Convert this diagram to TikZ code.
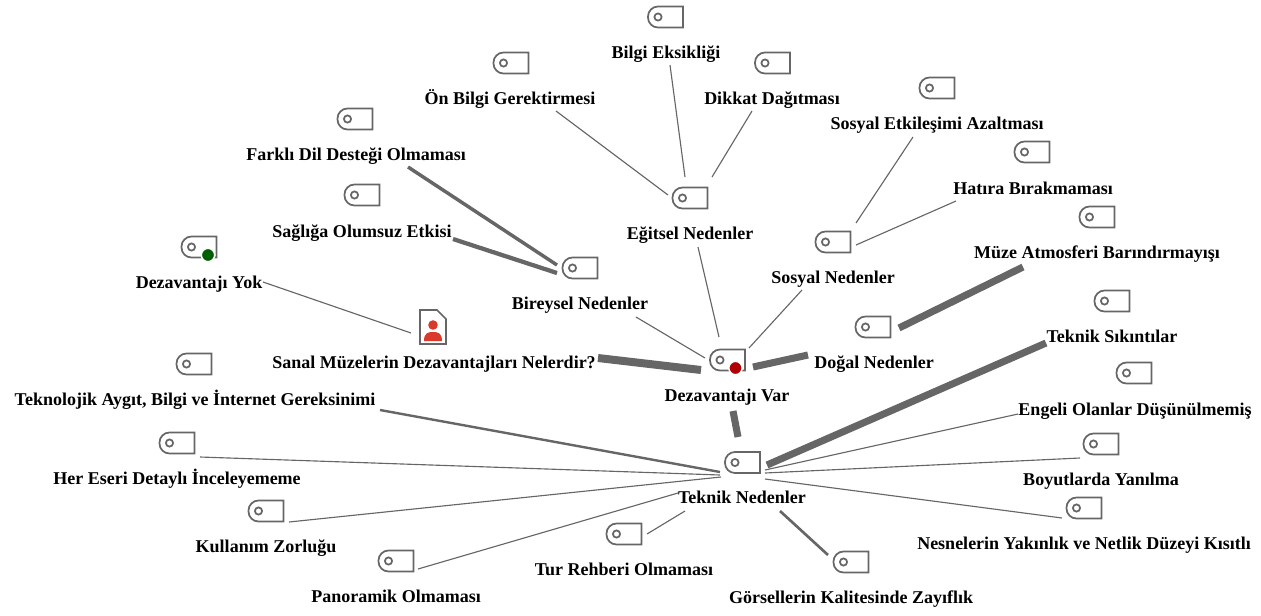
\documentclass[tikz,border=0pt]{standalone}
\usepackage{fontspec}
\setmainfont{Liberation Serif}
\usepackage{tikz}
\usetikzlibrary{calc}
\definecolor{linkgray}{HTML}{666666}
\definecolor{tagred}{HTML}{B00000}
\definecolor{taggreen}{HTML}{005F00}
\definecolor{docred}{HTML}{D93A2B}
\tikzset{
  tagbox/.style={minimum width=26.25pt,minimum height=15.75pt,inner sep=0pt},
  tagline/.style={draw=linkgray,line width=1.3pt},
  lbl/.style={inner sep=0pt,text height=10pt,text depth=2.5pt,font=\fontsize{13.5pt}{15pt}\selectfont\bfseries},
  link/.style={draw=linkgray,line width=#1},
  link/.default=0.85pt,
  tagdot/.style={circle,inner sep=0pt,minimum size=10pt,fill=#1,draw=white,line width=1.1pt}
}

\begin{document}
\begin{tikzpicture}[x=0.75pt,y=-0.75pt]
\useasboundingbox (0,0) rectangle (1261,615);
% tags and their labels
\foreach \n/\ix/\iy/\lx/\ly/\t in {
  Bilgi/665.5/17/666/53/Bilgi Eksikliği,
  Dikkat/772.5/63/772/99/Dikkat Dağıtması,
  OnBilgi/511/63/510/99/Ön Bilgi Gerektirmesi,
  Etkilesim/937/88/937/124/Sosyal Etkileşimi Azaltması,
  Hatira/1032/152/1033/189/Hatıra Bırakmaması,
  Atmosfer/1097/217/1097/253/Müze Atmosferi Barındırmayışı,
  Sikinti/1112/301/1112/337/Teknik Sıkıntılar,
  Engel/1134/373/1135/410/Engeli Olanlar Düşünülmemiş,
  Boyut/1101/444/1101/480/Boyutlarda Yanılma,
  Netlik/1084/508/1084/544/Nesnelerin Yakınlık ve Netlik Düzeyi Kısıtlı,
  Gorsel/851/562/851/598/Görsellerin Kalitesinde Zayıflık,
  Rehber/624/534/624/570/Tur Rehberi Olmaması,
  Panorama/396/561/396/597/Panoramik Olmaması,
  Zorluk/266/511/266/547/Kullanım Zorluğu,
  Detay/177/443/177/479/Her Eseri Detaylı İnceleyememe,
  Aygit/194/364/195/400/{Teknolojik Aygıt, Bilgi ve İnternet Gereksinimi},
  Yok/199/247/199/283/Dezavantajı Yok,
  Saglik/362/195/362/232/Sağlığa Olumsuz Etkisi,
  Dil/355/119/356/155/Farklı Dil Desteği Olmaması,
  Bireysel/580/268/580/304/Bireysel Nedenler,
  Egitsel/690/198/690/234/Eğitsel Nedenler,
  Sosyal/833/242/833/278/Sosyal Nedenler,
  Dogal/873/327/874/363/Doğal Nedenler,
  Var/727.5/360/727/396/Dezavantajı Var,
  Teknik/742.5/462.5/742/498/Teknik Nedenler}{
  \node[tagbox] (i\n) at (\ix,\iy) {};
  \node[lbl] (l\n) at (\lx,\ly) {\t};
  \draw[tagline,shift={(\ix,\iy)}] (17.5,-10.5) -- (17.5,10.5) [rounded corners=7.5pt] -- (-17.5,10.5) -- (-17.5,-10.5) [sharp corners] -- cycle;
  \draw[tagline,shift={(\ix,\iy)}] (-7.5,0) circle (3.6);
}
% status dots
\node[tagdot=tagred] (dVar) at ($(iVar)+(8,8)$) {};
\node[tagdot=taggreen] (dYok) at ($(iYok)+(9,8)$) {};
% question
\node[inner sep=0pt,minimum width=19.5pt,minimum height=25.5pt] (iRoot) at (433,327) {};
\node[lbl] (lRoot) at (434,363) {Sanal Müzelerin Dezavantajları Nelerdir?};
\draw[tagline,shift={(433,327)}] (-13,-17) -- (4,-17) -- (13,-8) -- (13,17) -- (-13,17) -- cycle;
\fill[docred,shift={(433,327)}] (0,-2) circle (4.8);
\fill[docred,shift={(433,327)}] (-9,14) .. controls (-9,6) and (-5,5) .. (0,5) .. controls (5,5) and (9,6) .. (9,14) -- cycle;
% thin links
\draw[link] ($(lOnBilgi)+(46,12)$) -- ($(iEgitsel)+(-22,-3)$);
\draw[link] ($(lBilgi)+(4,12)$) -- ($(iEgitsel)+(-5,-21)$);
\draw[link] ($(lDikkat)+(-20,12)$) -- ($(iEgitsel)+(22,-21)$);
\draw[link] ($(lEtkilesim)+(-24,13)$) -- ($(iSosyal)+(23,-19)$);
\draw[link] ($(lHatira)+(-77,12)$) -- ($(iSosyal)+(23,3)$);
\draw[link] ($(lEngel)+(-117,4)$) -- ($(iTeknik)+(22.5,7.5)$);
\draw[link] ($(iBoyut)+(-21,14)$) -- ($(iTeknik)+(22.5,10.5)$);
\draw[link] ($(iNetlik)+(-22,10)$) -- ($(iTeknik)+(22.5,16.5)$);
\draw[link] ($(iRehber)+(23,0)$) -- ($(lTeknik)+(-57,13)$);
\draw[link] ($(iPanorama)+(22,8)$) -- ($(lTeknik)+(-64,-5)$);
\draw[link] ($(iZorluk)+(23,11)$) -- ($(iTeknik)+(-21.5,14.5)$);
\draw[link] ($(iDetay)+(23,14)$) -- ($(iTeknik)+(-22.5,12.5)$);
\draw[link] ($(lYok)+(64,-1)$) -- ($(iRoot)+(-22,6)$);
\draw[link] ($(lBireysel)+(56,13)$) -- ($(iVar)+(-22.5,-2)$);
\draw[link] ($(lEgitsel)+(8,13)$) -- ($(iVar)+(-8.5,-23)$);
\draw[link] ($(lSosyal)+(-31,12)$) -- ($(iVar)+(21.5,-12)$);
% heavy links
\draw[link=5.3pt] ($(lAtmosfer)+(-74,14)$) -- ($(iDogal)+(26,1)$);
\draw[link=5.3pt] ($(lSikinti)+(-66,6)$) -- ($(iTeknik)+(24.5,2.5)$);
\draw[link=2pt] ($(iGorsel)+(-23,-7)$) -- ($(lTeknik)+(38,13)$);
\draw[link=1.8pt] ($(lAygit)+(185,10)$) -- ($(iTeknik)+(-22.5,9.5)$);
\draw[link=3.2pt] ($(lSaglik)+(91,7)$) -- ($(iBireysel)+(-23,5)$);
\draw[link=2.6pt] ($(lDil)+(52,12)$) -- ($(iBireysel)+(-23,-3)$);
\draw[link=6pt] ($(lRoot)+(164,-5)$) -- ($(iVar)+(-26.5,10)$);
\draw[link=5.3pt] ($(iVar)+(25.5,7)$) -- ($(lDogal)+(-66,-8)$);
\draw[link=5.3pt] ($(lVar)+(6,15)$) -- ($(iTeknik)+(-4.5,-25.5)$);
\end{tikzpicture}
\end{document}
